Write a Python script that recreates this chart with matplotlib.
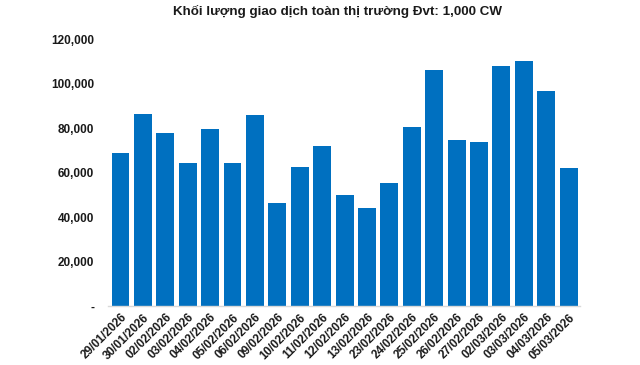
import matplotlib
matplotlib.use("Agg")
import matplotlib.pyplot as plt
from matplotlib.ticker import FuncFormatter

plt.rcParams['font.family'] = ['Liberation Sans', 'DejaVu Sans']

dates = ["29/01/2026", "30/01/2026", "02/02/2026", "03/02/2026", "04/02/2026",
         "05/02/2026", "06/02/2026", "09/02/2026", "10/02/2026", "11/02/2026",
         "12/02/2026", "13/02/2026", "23/02/2026", "24/02/2026", "25/02/2026",
         "26/02/2026", "27/02/2026", "02/03/2026", "03/03/2026", "04/03/2026",
         "05/03/2026"]
volumes = [68900, 86400, 77900, 64400, 79700, 64400, 86000, 46400, 62600, 72000,
           50000, 44100, 55400, 80600, 106200, 74700, 73800, 108000, 110300, 96800,
           62100]
yticks = [0, 20000, 40000, 60000, 80000, 100000, 120000]

fig = plt.figure(figsize=(6.4, 3.65), dpi=100)
ax = fig.add_axes([0.169, 0.1616, 0.737, 0.7305])
x = list(range(len(dates)))
ax.bar(x, volumes, width=0.8, color="#0070C0")
ax.set_xlim(-0.55, len(dates) - 0.5)
ax.set_ylim(0, 120000)
ax.set_yticks(yticks)
ax.yaxis.set_major_formatter(FuncFormatter(lambda v, p: "-" if v == 0 else f"{int(v):,}"))
ax.set_xticks(x)
ax.set_xticklabels(dates, rotation=45, ha="right", rotation_mode="anchor")
for lab in ax.get_xticklabels() + ax.get_yticklabels():
    lab.set_fontweight("bold")
    lab.set_fontsize(8.5)
    lab.set_color("#1a1a1a")
ax.tick_params(axis="both", length=0)
ax.tick_params(axis="y", pad=10)
ax.tick_params(axis="x", pad=4)
for s in ["top", "right", "left"]:
    ax.spines[s].set_visible(False)
ax.spines["bottom"].set_color("#d9d9d9")
ax.spines["bottom"].set_linewidth(1.0)
fig.suptitle("Khối lượng giao dịch toàn thị trường Đvt: 1,000 CW", x=0.528, y=0.985,
             fontsize=9.6, fontweight="bold", color="#1a1a1a")
fig.savefig("out.png", dpi=100)
